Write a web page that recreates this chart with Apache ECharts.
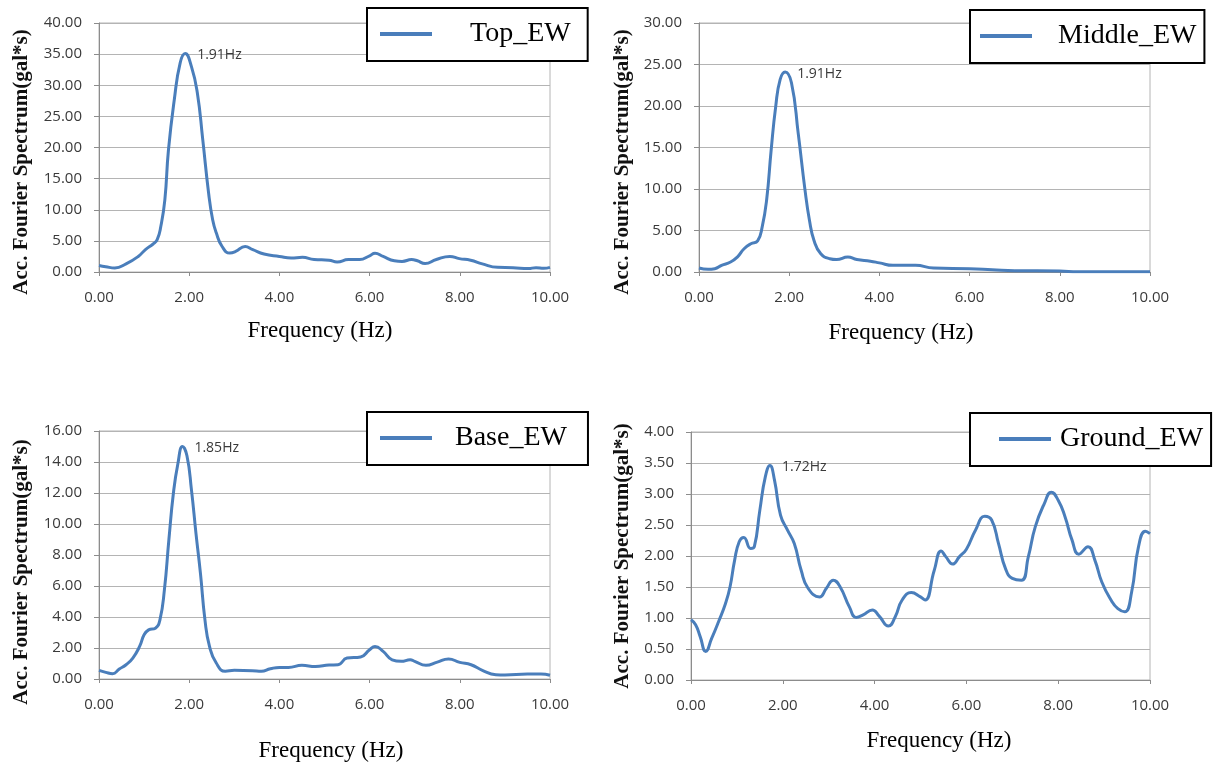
<!DOCTYPE html>
<html>
<head>
<meta charset="utf-8">
<script src="https://cdn.jsdelivr.net/npm/echarts@6/dist/echarts.min.js"></script>
<style>
  html, body { margin: 0; padding: 0; background: #ffffff; }
  #chart { width: 1216px; height: 767px; }
</style>
</head>
<body>
<div id="chart"></div>
<script>
// Acceleration Fourier spectra, EW direction, at four levels of the structure.
const topFreq = [0, 0.15, 0.35, 0.6, 0.87, 1.03, 1.2, 1.29, 1.37, 1.46, 1.54, 1.67, 1.8, 1.91, 2.05, 2.18, 2.3, 2.43, 2.52, 2.6,
  2.73, 2.9, 3.03, 3.24, 3.41, 3.66, 4.0, 4.26, 4.51, 4.77, 5.1, 5.28, 5.53, 5.78, 6.0, 6.12, 6.3, 6.55, 6.72, 6.93,
  7.06, 7.23, 7.48, 7.78, 7.99, 8.24, 8.5, 8.84, 9.18, 9.52, 9.69, 9.86, 10];
const topAmp = [1.05, 0.85, 0.65, 1.3, 2.5, 3.6, 4.5, 5.2, 7.3, 11.6, 19.6, 27.7, 33.6, 35.1, 33.0, 28.8, 21.3, 12.7, 8.4, 6.3,
  4.1, 3.05, 3.3, 4.1, 3.6, 2.9, 2.5, 2.25, 2.35, 2.0, 1.9, 1.6, 2.0, 2.0, 2.6, 3.0, 2.5, 1.8, 1.7, 2.0,
  1.8, 1.35, 2.0, 2.5, 2.15, 1.9, 1.3, 0.75, 0.7, 0.55, 0.7, 0.6, 0.75];

const middleFreq = [0, 0.2, 0.35, 0.5, 0.7, 0.85, 1.0, 1.15, 1.3, 1.4, 1.5, 1.6, 1.7, 1.8, 1.91, 2.05, 2.2, 2.35, 2.45, 2.55,
  2.7, 2.9, 3.05, 3.3, 3.5, 3.8, 4.0, 4.3, 4.8, 5.2, 6.0, 6.5, 7.0, 8.0, 8.4, 10];
const middleAmp = [0.48, 0.32, 0.4, 0.8, 1.2, 1.8, 2.8, 3.4, 3.75, 5.4, 8.7, 14.7, 19.9, 23.2, 24.1, 22.8, 16.7, 9.9, 6.2, 3.8,
  2.2, 1.6, 1.5, 1.8, 1.5, 1.3, 1.1, 0.8, 0.8, 0.48, 0.4, 0.28, 0.16, 0.12, 0.03, 0.03];

const baseFreq = [0, 0.15, 0.3, 0.45, 0.6, 0.75, 0.9, 1.0, 1.1, 1.25, 1.35, 1.45, 1.55, 1.65, 1.75, 1.85, 1.95, 2.05, 2.15, 2.25,
  2.35, 2.45, 2.6, 2.8, 3.0, 3.4, 3.6, 3.8, 4.0, 4.2, 4.5, 4.8, 5.1, 5.3, 5.5, 5.8, 6.0, 6.12, 6.3, 6.5,
  6.7, 6.9, 7.0, 7.25, 7.5, 7.75, 8.0, 8.25, 8.5, 8.8, 9.0, 9.5, 9.8, 10];
const baseAmp = [0.56, 0.43, 0.34, 0.64, 0.92, 1.35, 2.1, 2.85, 3.17, 3.28, 3.8, 5.75, 9.0, 12.0, 13.9, 15.0, 14.4, 12.2, 9.4, 6.8,
  3.8, 2.1, 1.03, 0.5, 0.56, 0.54, 0.5, 0.66, 0.75, 0.75, 0.88, 0.81, 0.9, 0.92, 1.35, 1.42, 1.89, 2.1, 1.78, 1.24,
  1.14, 1.24, 1.14, 0.88, 1.09, 1.29, 1.07, 0.92, 0.56, 0.28, 0.26, 0.32, 0.32, 0.24];

const groundFreq = [0, 0.1, 0.2, 0.32, 0.45, 0.6, 0.75, 0.85, 0.95, 1.05, 1.15, 1.3, 1.38, 1.5, 1.62, 1.72, 1.82, 1.95, 2.1, 2.25,
  2.4, 2.55, 2.8, 2.95, 3.1, 3.25, 3.45, 3.6, 3.75, 3.95, 4.1, 4.3, 4.45, 4.6, 4.8, 5.0, 5.1, 5.3, 5.45, 5.55,
  5.7, 5.85, 6.0, 6.2, 6.4, 6.55, 6.7, 6.85, 7.0, 7.2, 7.35, 7.5, 7.7, 7.85, 8.0, 8.15, 8.3, 8.45, 8.65, 8.8,
  8.95, 9.15, 9.3, 9.45, 9.6, 9.75, 9.9, 10];
const groundAmp = [0.97, 0.89, 0.70, 0.46, 0.67, 0.94, 1.23, 1.5, 1.93, 2.23, 2.3, 2.12, 2.15, 2.74, 3.28, 3.46, 3.22, 2.66, 2.42, 2.2,
  1.77, 1.48, 1.34, 1.48, 1.61, 1.5, 1.18, 1.01, 1.05, 1.13, 1.03, 0.87, 1.02, 1.29, 1.41, 1.34, 1.29, 1.77, 2.08, 1.99,
  1.87, 1.99, 2.11, 2.42, 2.64, 2.58, 2.2, 1.8, 1.64, 1.61, 1.99, 2.47, 2.85, 3.03, 2.9, 2.63, 2.26, 2.03, 2.15, 1.93,
  1.58, 1.29, 1.15, 1.1, 1.42, 2.15, 2.4, 2.36];

const seriesNames = ['Top_EW', 'Middle_EW', 'Base_EW', 'Ground_EW'];
const yMax = [40, 30, 16, 4];
const yStep = [5, 5, 2, 0.5];
const xMax = 10;
const xStep = 2;
const xTitle = 'Frequency (Hz)';
const yTitle = 'Acc. Fourier Spectrum(gal*s)';

const freqs = [topFreq, middleFreq, baseFreq, groundFreq];
const amps = [topAmp, middleAmp, baseAmp, groundAmp];

// Panel placement (pixels)
const panels = [
  { grid: { left: 99, top: 23, width: 451, height: 249 },
    legend: { left: 367, top: 8, padL: 13, textPadL: 33, padR: 17 },
    xT: [320, 331], yT: [22, 162] },
  { grid: { left: 699, top: 23, width: 451, height: 249 },
    legend: { left: 970, top: 10, padL: 10, textPadL: 21, padR: 8 },
    xT: [901, 333], yT: [623, 162] },
  { grid: { left: 99, top: 431, width: 451, height: 248 },
    legend: { left: 367, top: 412, padL: 13, textPadL: 18, padR: 21 },
    xT: [331, 751], yT: [22, 572] },
  { grid: { left: 691, top: 432, width: 459, height: 248 },
    legend: { left: 970, top: 413, padL: 29, textPadL: 4, padR: 8 },
    xT: [939, 741], yT: [623, 556] }
];

const LINE = '#4a7ebb';
const GRID_LINE = '#b4b4b4';
const AXIS_LINE = '#8c8c8c';
const LABEL = '#3a3a3a';
const SANS = '"Open Sans", "Liberation Sans", sans-serif';
const SERIF = '"Liberation Serif", "DejaVu Serif", serif';

const option = {
  animation: false,
  backgroundColor: '#ffffff',
  grid: panels.map(p => Object.assign({
    show: true, borderColor: GRID_LINE, borderWidth: 1, backgroundColor: 'transparent'
  }, p.grid)),
  xAxis: panels.map((p, i) => ({
    type: 'value', gridIndex: i, min: 0, max: xMax, interval: xStep,
    axisLine: { show: true, onZero: false, lineStyle: { color: AXIS_LINE, width: 1 } },
    axisTick: { show: true, inside: false, length: 4, lineStyle: { color: AXIS_LINE } },
    splitLine: { show: false },
    axisLabel: { margin: 18, color: LABEL, fontFamily: SANS, fontSize: 15,
      formatter: v => v.toFixed(2) }
  })),
  yAxis: panels.map((p, i) => ({
    type: 'value', gridIndex: i, min: 0, max: yMax[i], interval: yStep[i],
    axisLine: { show: true, lineStyle: { color: AXIS_LINE, width: 1 } },
    axisTick: { show: true, inside: false, length: 5, lineStyle: { color: AXIS_LINE } },
    splitLine: { show: true, lineStyle: { color: GRID_LINE, width: 1 } },
    axisLabel: { margin: 17, color: LABEL, fontFamily: SANS, fontSize: 15,
      formatter: v => v.toFixed(2) }
  })),
  legend: panels.map((p, i) => ({
    data: [seriesNames[i]],
    left: p.legend.left, top: p.legend.top,
    orient: 'horizontal',
    padding: [11, p.legend.padR, 12, p.legend.padL],
    backgroundColor: '#ffffff',
    borderColor: '#000000', borderWidth: 2, borderRadius: 0,
    icon: 'rect', itemWidth: 52, itemHeight: 4,
    selectedMode: false,
    textStyle: { fontFamily: SERIF, fontSize: 28, color: '#000000', lineHeight: 30,
      padding: [0, 0, 0, p.legend.textPadL] }
  })),
  series: panels.map((p, i) => {
    const f = freqs[i], a = amps[i];
    const k = a.indexOf(Math.max(...a));
    return {
      name: seriesNames[i], type: 'line',
      xAxisIndex: i, yAxisIndex: i,
      data: f.map((x, j) => [x, a[j]]),
      smooth: 0.5,
      symbol: 'none', showSymbol: false,
      lineStyle: { color: LINE, width: 3 },
      itemStyle: { color: LINE },
      markPoint: {
        symbol: 'circle', symbolSize: 0, silent: true,
        data: [{ coord: [f[k], a[k]], value: f[k] }],
        label: { show: true, position: 'right', distance: 12, offset: [0, 2],
          color: LABEL, fontFamily: SANS, fontSize: 14,
          formatter: () => f[k].toFixed(2) + 'Hz' }
      }
    };
  }),
  graphic: panels.flatMap(p => [
    { type: 'text', x: p.xT[0], y: p.xT[1], silent: true,
      style: { text: xTitle, fill: '#000000', font: '23px ' + SERIF,
        textAlign: 'center', textVerticalAlign: 'middle' } },
    { type: 'text', x: p.yT[0], y: p.yT[1], rotation: Math.PI / 2, silent: true,
      style: { text: yTitle, fill: '#111111', font: 'bold 21px ' + SERIF,
        textAlign: 'center', textVerticalAlign: 'middle' } }
  ])
};

const chart = echarts.init(document.getElementById('chart'), null, { renderer: 'canvas' });
chart.setOption(option);
</script>
</body>
</html>
